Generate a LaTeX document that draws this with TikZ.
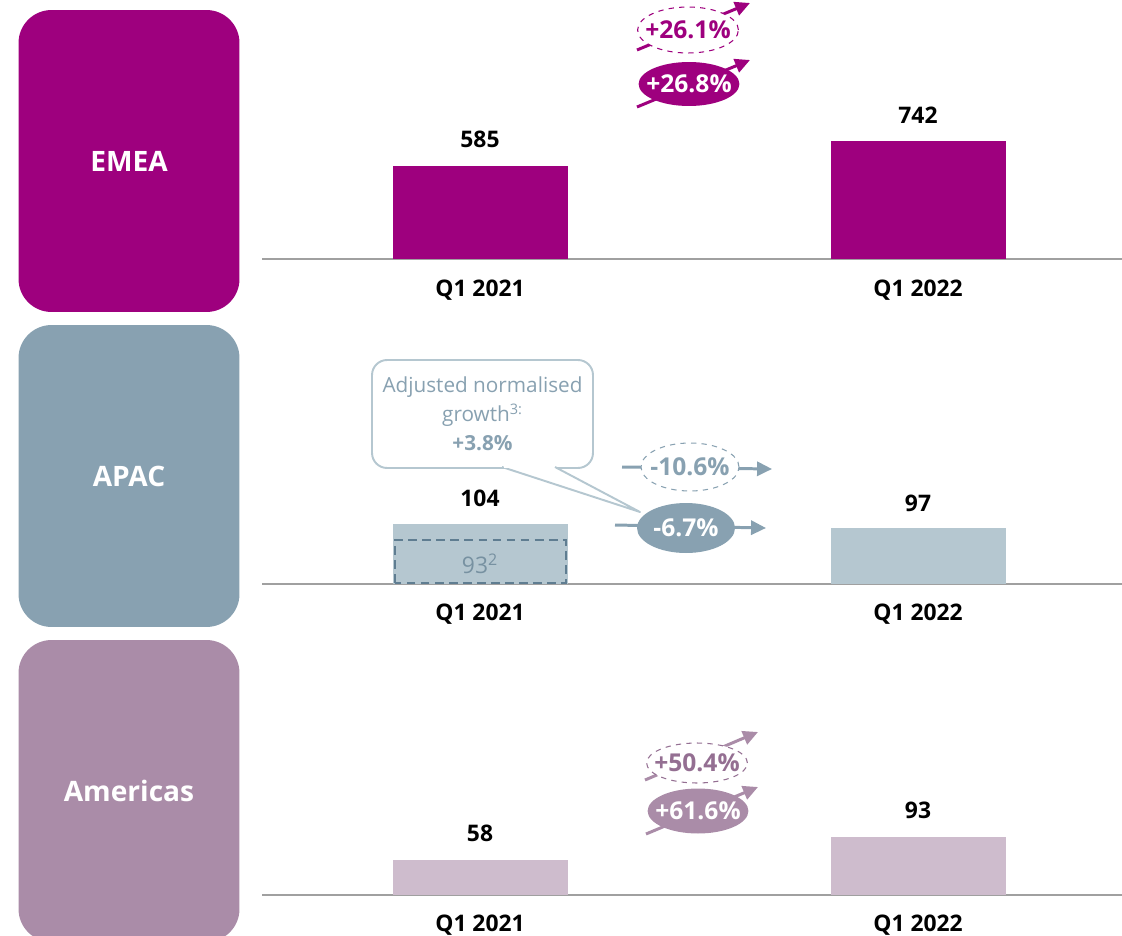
\documentclass[tikz,border=0pt]{standalone}
\usepackage{fontspec}
\setmainfont{Open Sans}
\usepackage{xcolor}
\usetikzlibrary{arrows.meta,shapes.geometric,positioning}
\definecolor{emea}{HTML}{9E007E}
\definecolor{apac}{HTML}{88A1B1}
\definecolor{apacl}{HTML}{B5C7D0}
\definecolor{apacd}{HTML}{5F7D91}
\definecolor{amer}{HTML}{AA8CA8}
\definecolor{amerl}{HTML}{CEBCCD}
\definecolor{amerd}{HTML}{946F92}
\definecolor{axisgray}{HTML}{A0A0A0}

\begin{document}
\begin{tikzpicture}[
    x=0.02cm, y=0.02cm,
    region/.style={rounded corners=0.66cm, minimum width=4.42cm, minimum height=6.04cm, text=white, font=\bfseries\fontsize{16}{19}\selectfont},
    bar/.style={anchor=south, minimum width=3.5cm, inner sep=0pt},
    val/.style={font=\bfseries\fontsize{13}{16}\selectfont},
    axis/.style={draw=axisgray, line width=1.1pt},
    growth/.style={ellipse, inner xsep=-4pt, inner ysep=0pt, minimum width=1.96cm, minimum height=0.88cm, font=\bfseries\fontsize{14}{16}\selectfont},
    dashgrowth/.style={growth, draw, dashed, fill=white, line width=0.6pt},
    fullgrowth/.style={growth, text=white},
    arrow/.style={-{Triangle[length=8.5pt, width=8pt]}, line width=1.7pt},
    note/.style={draw=apacl, line width=1.1pt, fill=white, rounded corners=0.3cm, align=center, text=apac, font=\fontsize{11.8}{16.5}\selectfont, minimum width=4.42cm, minimum height=2.16cm, inner sep=0pt}
]
    \clip (0,0) rectangle (1122,-936);

    % EMEA
    \node[region, fill=emea] (emea) at (129,-161) {EMEA};
    \draw[axis] (262,-259) -- (1122,-259);
    \node[bar, fill=emea, minimum height=1.86cm] (e1) at (480.5,-259) {};
    \node[bar, fill=emea, minimum height=2.36cm] (e2) at (918.5,-259) {};
    \node[val] at (480,-139) {585};
    \node[val] at (918,-115) {742};
    \node[val] at (480,-290) {Q1 2021};
    \node[val] at (918,-290) {Q1 2022};

    \coordinate (e1s) at (637,-50);
    \coordinate (e1e) at (750,-3);
    \draw[arrow, emea] (e1s) -- (e1e);
    \node[dashgrowth, draw=emea, text=emea, minimum height=0.92cm] (eg1) at (688,-30) {+26.1\%};
    \coordinate (e2s) at (637,-107);
    \coordinate (e2e) at (750,-60);
    \draw[arrow, emea] (e2s) -- (e2e);
    \node[fullgrowth, fill=emea] (eg2) at (689,-84) {+26.8\%};

    % APAC
    \node[region, fill=apac] (apac) at (129,-476) {APAC};
    \draw[axis] (262,-584) -- (1122,-584);
    \node[bar, fill=apacl, minimum height=1.2cm] (p1) at (480.5,-584) {};
    \node[bar, fill=apacl, minimum height=1.12cm] (p2) at (918.5,-584) {};
    \draw[apacd, line width=1.1pt, dash pattern=on 5pt off 3pt] (395,-583) rectangle (566,-540);
    \node[text=apacd!85!white, font=\fontsize{13}{16}\selectfont] (norm) at (480,-564) {93\textsuperscript{2}};
    \node[val] at (480,-498) {104};
    \node[val] at (918,-503) {97};
    \node[val] at (480,-614) {Q1 2021};
    \node[val] at (918,-614) {Q1 2022};

    \coordinate (p1s) at (622,-467);
    \coordinate (p1e) at (772,-469);
    \draw[arrow, apac] (p1s) -- (p1e);
    \node[dashgrowth, draw=apac, text=apac, minimum height=0.96cm] (pg1) at (690,-467) {-10.6\%};

    % callout
    \node[note] (note) at (482.5,-414) {Adjusted normalised\\growth\textsuperscript{3:}\\\textbf{+3.8\%}};
    \coordinate (tip) at (640,-512);
    \draw[apacl, line width=1.1pt, fill=white, line join=round] (502,-467) -- (tip) -- (555,-467);
    \draw[white, line width=1.3pt] (503.5,-467) -- (553.5,-467);

    \coordinate (p2s) at (615,-525);
    \coordinate (p2e) at (766,-528);
    \draw[arrow, apac] (p2s) -- (p2e);
    \node[fullgrowth, fill=apac, minimum height=1.0cm] (pg2) at (686,-528) {-6.7\%};

    % Americas
    \node[region, fill=amer] (amer) at (129,-791) {Americas};
    \draw[axis] (262,-895) -- (1122,-895);
    \node[bar, fill=amerl, minimum height=0.7cm] (a1) at (480.5,-895) {};
    \node[bar, fill=amerl, minimum height=1.16cm] (a2) at (918.5,-895) {};
    \node[val] at (480,-833) {58};
    \node[val] at (918,-810) {93};
    \node[val] at (480,-925) {Q1 2021};
    \node[val] at (918,-925) {Q1 2022};

    \coordinate (a1s) at (645,-780);
    \coordinate (a1e) at (758,-732);
    \draw[arrow, amer] (a1s) -- (a1e);
    \node[dashgrowth, draw=amerd, text=amerd, minimum height=0.8cm] (ag1) at (697,-763) {+50.4\%};
    \coordinate (a2s) at (646,-834);
    \coordinate (a2e) at (758,-787);
    \draw[arrow, amer] (a2s) -- (a2e);
    \node[fullgrowth, fill=amer, minimum height=0.9cm] (ag2) at (698,-811) {+61.6\%};
\end{tikzpicture}
\end{document}
